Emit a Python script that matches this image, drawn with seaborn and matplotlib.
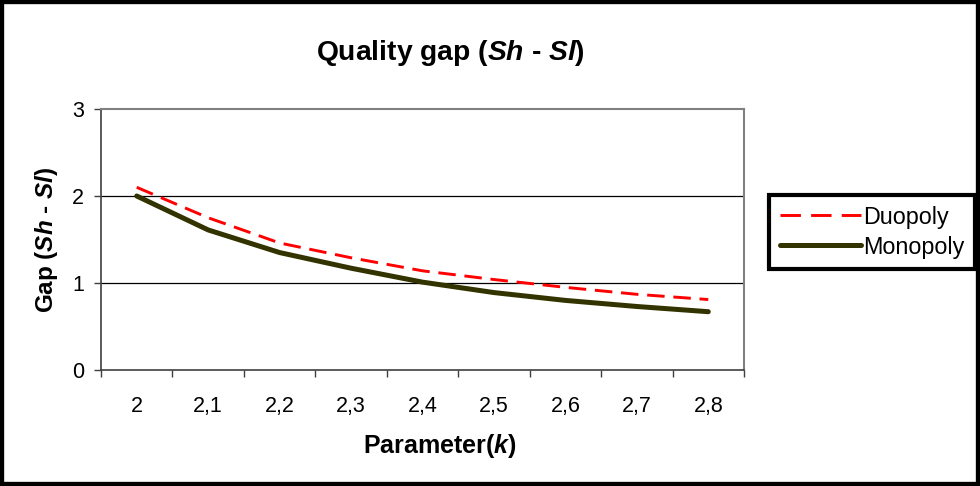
import matplotlib
matplotlib.use("Agg")
import matplotlib.pyplot as plt
import seaborn as sns
import pandas as pd
from matplotlib.lines import Line2D
from matplotlib.patches import Rectangle
from matplotlib.ticker import FixedLocator

categories = ["2", "2,1", "2,2", "2,3", "2,4", "2,5", "2,6", "2,7", "2,8"]
duopoly = [2.10, 1.75, 1.46, 1.29, 1.14, 1.04, 0.95, 0.87, 0.81]
monopoly = [2.00, 1.61, 1.35, 1.17, 1.01, 0.89, 0.80, 0.73, 0.67]
series_names = ["Duopoly", "Monopoly"]
y_ticks = [0, 1, 2, 3]

sns.set_style("white")
plt.rcParams["font.family"] = ["Liberation Sans", "DejaVu Sans"]
plt.rcParams["mathtext.fontset"] = "custom"
plt.rcParams["mathtext.it"] = "Liberation Sans:italic:bold"
plt.rcParams["mathtext.rm"] = "Liberation Sans:bold"
plt.rcParams["mathtext.bf"] = "Liberation Sans:bold"
for key in ["text.color", "axes.labelcolor", "xtick.color", "ytick.color"]:
    plt.rcParams[key] = "black"

fig = plt.figure(figsize=(9.8, 4.86), dpi=100)
ax = fig.add_axes([101/980, 1-370/486, (744-101)/980, (370-109)/486])

df_d = pd.DataFrame({"k": categories, "gap": duopoly})
df_m = pd.DataFrame({"k": categories, "gap": monopoly})

sns.lineplot(data=df_d, x="k", y="gap", ax=ax, color="#FF0000", linewidth=2.1,
             sort=False)
ax.lines[-1].set_dashes((6, 3))
sns.lineplot(data=df_m, x="k", y="gap", ax=ax, color="#333300", linewidth=3.6,
             sort=False)
ax.lines[-1].set_solid_capstyle("round")

ax.set_xlim(-0.5, len(categories) - 0.5)
ax.set_ylim(0, 3)
ax.set_yticks(y_ticks)
for y in [1, 2]:
    ax.axhline(y, color="#000000", linewidth=0.9, zorder=0)

ax.set_xticks(range(len(categories)))
ax.set_xticklabels(categories)
ax.xaxis.set_minor_locator(FixedLocator([i - 0.5 for i in range(len(categories) + 1)]))
ax.tick_params(axis="x", which="major", length=0, pad=19, labelsize=15.5,
               labelcolor="black")
ax.tick_params(axis="x", which="minor", length=5, width=1, color="#404040", bottom=True)
ax.tick_params(axis="y", which="major", length=5, width=1, color="#404040", left=True,
               pad=7, labelsize=15.5, labelcolor="black")

for s in ["left", "bottom"]:
    ax.spines[s].set_color("#404040")
    ax.spines[s].set_linewidth(1.2)
for s in ["top", "right"]:
    ax.spines[s].set_visible(True)
    ax.spines[s].set_color("#808080")
    ax.spines[s].set_linewidth(1.5)

ax.set_xlabel("")
ax.set_ylabel("")
fig.text(440/980, 1-446/486, r"Parameter($k$)", fontsize=18, fontweight="bold",
         ha="center", va="center", color="black")
fig.text(46/980, 1-240/486, r"Gap ($Sh$ - $Sl$)", fontsize=17.5, fontweight="bold",
         ha="center", va="center", rotation=90, color="black")
fig.text(450/980, 1-53/486, r"Quality gap ($Sh$ - $Sl$)", fontsize=20.3,
         fontweight="bold", ha="center", va="center", color="black")

handles = [Line2D([], [], color="#FF0000", linewidth=2.1, dashes=(7, 3.5)),
           Line2D([], [], color="#333300", linewidth=3.6, solid_capstyle="round")]
leg = fig.legend(handles, series_names, loc="center left",
                 bbox_to_anchor=(769/980, 1-232/486), fontsize=16.8, frameon=True,
                 fancybox=False, framealpha=1, handlelength=3.5, handletextpad=0.1,
                 borderpad=0.45, labelspacing=0.3, borderaxespad=0)
leg.get_frame().set_edgecolor("black")
leg.get_frame().set_linewidth(3)
for t in leg.get_texts():
    t.set_color("black")

fig.patches.append(Rectangle((0, 0), 1, 1, transform=fig.transFigure, fill=False,
                             edgecolor="black", linewidth=6, zorder=10))

fig.savefig("out.png", dpi=100)
